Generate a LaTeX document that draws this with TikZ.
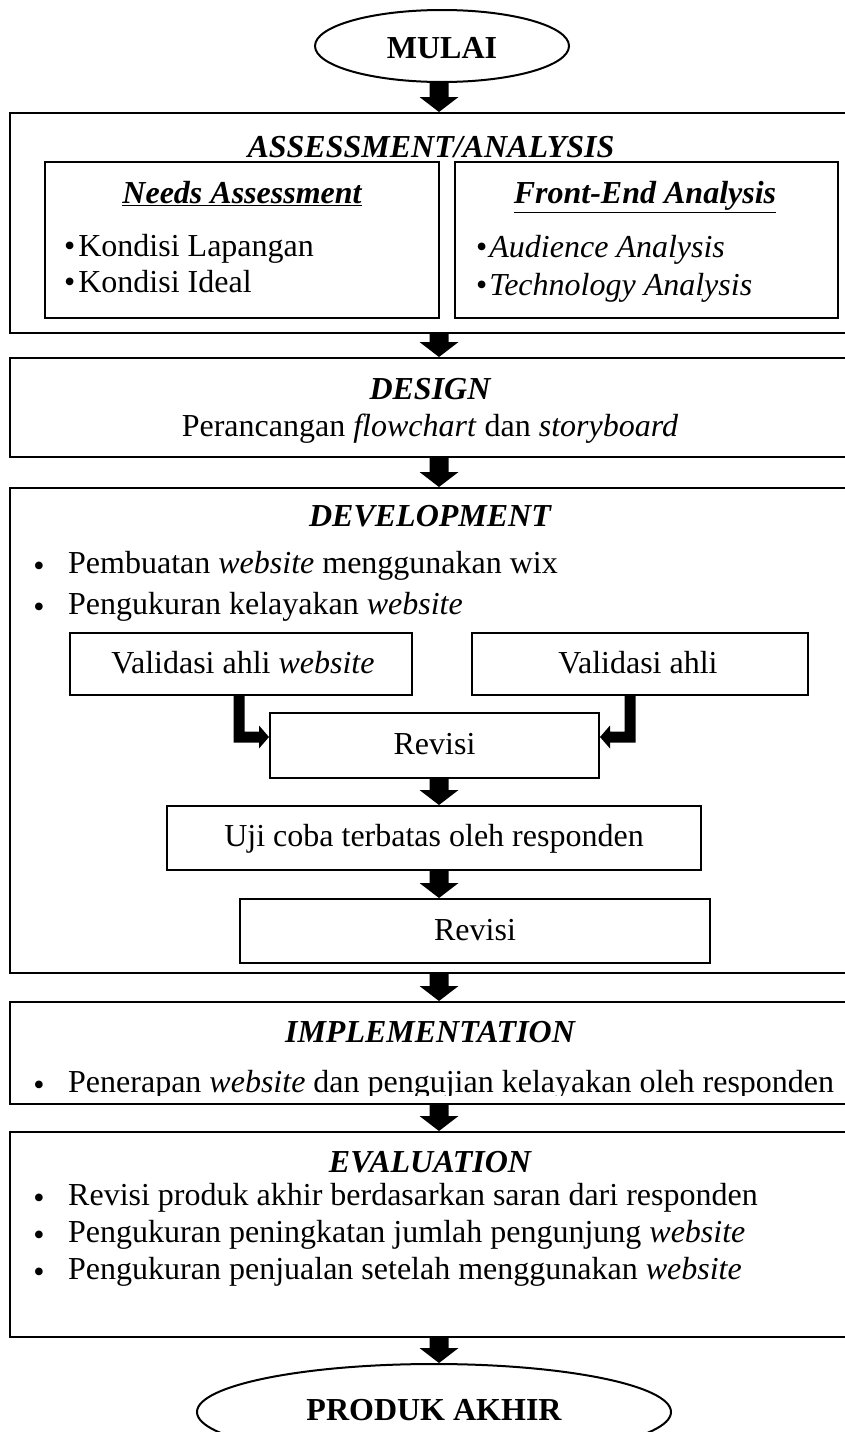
\documentclass[tikz,border=0pt]{standalone}
\usepackage{fontspec}
\setmainfont{Liberation Serif}
\usetikzlibrary{calc,shapes.geometric}
\newcommand{\blockdown}[2]{%
  \fill let \p1=(#1), \p2=(#2) in
    (\x1-9.5pt,\y1) -- (\x1+9.5pt,\y1) -- (\x1+9.5pt,\y2+15pt) -- (\x1+19.5pt,\y2+15pt)
    -- (\x1,\y2) -- (\x1-19.5pt,\y2+15pt) -- (\x1-9.5pt,\y2+15pt) -- cycle;}
\newcommand{\listbul}{\smash{\raisebox{-3pt}{\textbullet}}}
\begin{document}
\begin{tikzpicture}[x=1pt,y=-1pt,
  font=\fontsize{32}{38}\selectfont,
  box/.style={draw, line width=2pt, inner sep=0pt, rectangle},
  oval/.style={draw, line width=2pt, inner sep=0pt, ellipse},
  lbl/.style={inner sep=0pt, anchor=base},
  lbw/.style={inner sep=0pt, anchor=base west},
  ttl/.style={inner sep=0pt, anchor=base, font=\fontsize{32}{38}\selectfont\bfseries\itshape},
  bul/.style={inner sep=0pt, anchor=base}]
\useasboundingbox (0,0) rectangle (845,1432);
\clip (0,0) rectangle (845,1432);
\coordinate (axis) at (439,0);

% start
\node[oval, minimum width=254pt, minimum height=72pt] (mulai) at (442,46) {};
\node[lbl, font=\fontsize{32}{38}\selectfont\bfseries] (mulaitxt) at (442,58) {MULAI};

% assessment / analysis
\node[box, minimum width=840pt, minimum height=220pt] (ass) at (430,223) {};
\node[ttl] (asstitle) at (431,157.5) {ASSESSMENT/ANALYSIS};
\node[box, minimum width=394pt, minimum height=156pt] (needs) at (242,240) {};
\node[box, minimum width=383pt, minimum height=156pt] (front) at (646.5,240) {};
\node[ttl] (needstitle) at (242,203.5) {\underline{Needs Assessment}};
\node[ttl] (fronttitle) at (645,203.5) {\underline{Front-End Analysis}};
\node[lbw] (n1) at (64,256) {\textbullet\hspace{3pt}Kondisi Lapangan};
\node[lbw] (n2) at (64,292) {\textbullet\hspace{3pt}Kondisi Ideal};
\node[lbw] (f1) at (476,257) {\textbullet\hspace{2pt}\textit{Audience Analysis}};
\node[lbw] (f2) at (476,295) {\textbullet\hspace{2pt}\textit{Technology Analysis}};

% design
\node[box, minimum width=840pt, minimum height=99pt] (des) at (430,407.5) {};
\node[ttl] (destitle) at (430,399) {DESIGN};
\node[lbl] (destxt) at (430,436) {Perancangan \textit{flowchart} dan \textit{storyboard}};

% development
\node[box, minimum width=840pt, minimum height=485pt] (dev) at (430,730.5) {};
\node[ttl] (devtitle) at (430,526.5) {DEVELOPMENT};
\node[bul] (db1) at (39,573) {\listbul};
\node[lbw] (dt1) at (68,573) {Pembuatan \textit{website} menggunakan wix};
\node[bul] (db2) at (39,614) {\listbul};
\node[lbw] (dt2) at (68,614) {Pengukuran kelayakan \textit{website}};
\node[box, minimum width=342pt, minimum height=62pt] (valL) at (241,664) {};
\node[lbl] (valLtxt) at (243,673) {Validasi ahli \textit{website}};
\node[box, minimum width=336pt, minimum height=62pt] (valR) at (640,664) {};
\node[lbl] (valRtxt) at (638,673) {Validasi ahli};
\node[box, minimum width=329pt, minimum height=65pt] (rev1) at (434.5,745.5) {};
\node[lbl] (rev1txt) at (434.5,754) {Revisi};
\node[box, minimum width=534pt, minimum height=64pt] (uji) at (434,838) {};
\node[lbl] (ujitxt) at (434,846) {Uji coba terbatas oleh responden};
\node[box, minimum width=470pt, minimum height=64pt] (rev2) at (475,931) {};
\node[lbl] (rev2txt) at (475,940) {Revisi};

% implementation
\node[box, minimum width=840pt, minimum height=102pt] (imp) at (430,1053) {};
\node[ttl] (imptitle) at (430,1042.5) {IMPLEMENTATION};
\begin{scope}
  \clip (12,1004) rectangle (848,1095);
  \node[bul] (ib1) at (39,1092) {\listbul};
  \node[lbw] (it1) at (68,1092) {Penerapan \textit{website} dan pengujian kelayakan oleh responden};
\end{scope}

% evaluation
\node[box, minimum width=840pt, minimum height=205pt] (eva) at (430,1234.5) {};
\node[ttl] (evatitle) at (430,1172.5) {EVALUATION};
\node[bul] (eb1) at (39,1205) {\listbul};
\node[lbw] (et1) at (68,1205) {Revisi produk akhir berdasarkan saran dari responden};
\node[bul] (eb2) at (39,1242) {\listbul};
\node[lbw] (et2) at (68,1242) {Pengukuran peningkatan jumlah pengunjung \textit{website}};
\node[bul] (eb3) at (39,1279) {\listbul};
\node[lbw] (et3) at (68,1279) {Pengukuran penjualan setelah menggunakan \textit{website}};

% end
\node[oval, minimum width=474pt, minimum height=96pt] (produk) at (434,1412) {};
\node[lbl, font=\fontsize{32}{38}\selectfont\bfseries] (produktxt) at (434,1420) {PRODUK AKHIR};

% block arrows
\blockdown{mulai.south -| axis}{ass.north -| axis}
\blockdown{ass.south -| axis}{des.north -| axis}
\blockdown{des.south -| axis}{dev.north -| axis}
\blockdown{rev1.south -| axis}{uji.north -| axis}
\blockdown{uji.south -| axis}{rev2.north -| axis}
\blockdown{dev.south -| axis}{imp.north -| axis}
\blockdown{imp.south -| axis}{eva.north -| axis}
\blockdown{eva.south -| axis}{produk.north -| axis}

% elbow arrows into first Revisi
\fill let \p1=(valL.south), \p2=([yshift=8.5pt]rev1.west) in
  (\x2-35.5pt,\y1) -- (\x2-24.5pt,\y1) -- (\x2-24.5pt,\y2+5.5pt) -- (\x2-10pt,\y2+5.5pt)
  -- (\x2-10pt,\y2+11.5pt) -- (\x2,\y2) -- (\x2-10pt,\y2-11.5pt) -- (\x2-10pt,\y2-5.5pt)
  -- (\x2-35.5pt,\y2-5.5pt) -- cycle;
\fill let \p1=(valR.south), \p2=([yshift=8.5pt]rev1.east) in
  (\x2+35.5pt,\y1) -- (\x2+24.5pt,\y1) -- (\x2+24.5pt,\y2+5.5pt) -- (\x2+10pt,\y2+5.5pt)
  -- (\x2+10pt,\y2+11.5pt) -- (\x2,\y2) -- (\x2+10pt,\y2-11.5pt) -- (\x2+10pt,\y2-5.5pt)
  -- (\x2+35.5pt,\y2-5.5pt) -- cycle;
\end{tikzpicture}
\end{document}
